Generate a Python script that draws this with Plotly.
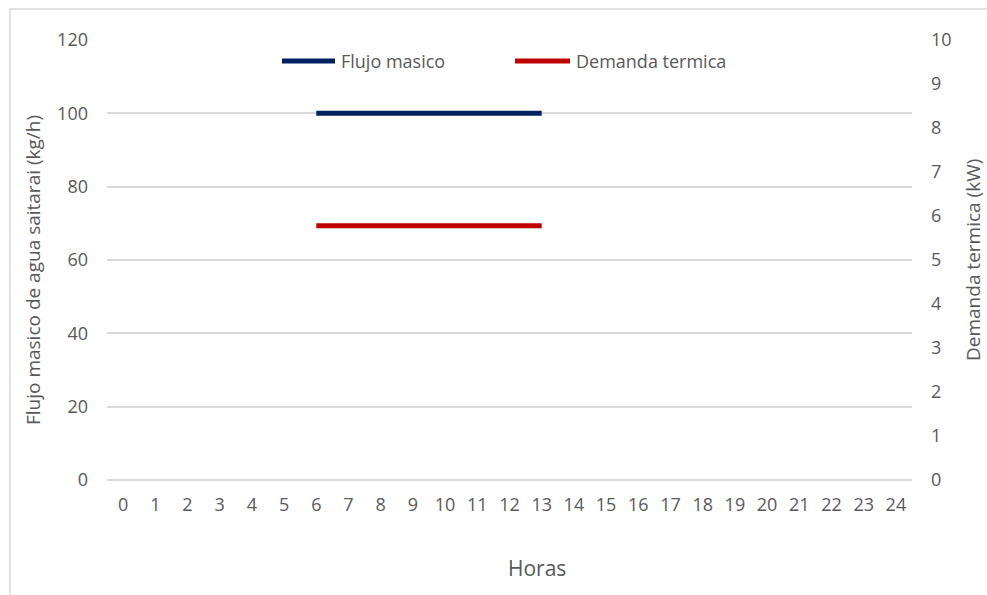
import plotly.graph_objects as go

# Hourly profile (0-24 h)
horas = list(range(25))
flujo_masico = [None] * 6 + [100] * 8 + [None] * 11          # kg/h, hours 6-13
demanda_termica = [None] * 6 + [5.78] * 8 + [None] * 11      # kW, hours 6-13

left_ticks = [0, 20, 40, 60, 80, 100, 120]
right_ticks = list(range(11))

BLUE = "#002060"
RED = "#C00000"
GREY = "#595959"
GRID = "#D9D9D9"
FONT = "Open Sans"

W, H = 987, 595
L, R, T, B = 107, 75, 40, 115
pw, ph = W - L - R, H - T - B


def px(x):
    return (x - L) / pw


def py(y):
    return (H - B - y) / ph


fig = go.Figure()
fig.add_trace(go.Scatter(x=horas, y=flujo_masico, mode="lines", name="Flujo masico",
                         line=dict(color=BLUE, width=5), showlegend=False, yaxis="y"))
fig.add_trace(go.Scatter(x=horas, y=demanda_termica, mode="lines", name="Demanda termica",
                         line=dict(color=RED, width=5), showlegend=False, yaxis="y2"))

fig.update_layout(
    width=W, height=H,
    margin=dict(l=L, r=R, t=T, b=B),
    paper_bgcolor="white", plot_bgcolor="white",
    font=dict(family=FONT, color=GREY, size=18),
    xaxis=dict(range=[-0.5, 24.5], tickmode="array", tickvals=horas,
               ticktext=[str(h) for h in horas], showgrid=False, zeroline=False,
               showline=False, ticks="", ticklabelstandoff=12,
               tickfont=dict(size=18, color=GREY)),
    yaxis=dict(range=[0, 120], tickmode="array", tickvals=left_ticks,
               showgrid=True, gridcolor=GRID, gridwidth=1.5,
               zeroline=True, zerolinecolor=GRID, zerolinewidth=1.5,
               showline=False, ticks="", ticklabelstandoff=18,
               tickfont=dict(size=18, color=GREY)),
    yaxis2=dict(range=[0, 10], tickmode="array", tickvals=right_ticks,
                overlaying="y", side="right", showgrid=False, zeroline=False,
                showline=False, ticks="", ticklabelstandoff=18,
                tickfont=dict(size=18, color=GREY)),
    showlegend=False,
)

# Axis titles
fig.add_annotation(text="Flujo masico de agua saitarai (kg/h)", x=px(33), y=py(270),
                   xref="paper", yref="paper", textangle=-90, showarrow=False,
                   font=dict(size=19, color=GREY), xanchor="center", yanchor="middle")
fig.add_annotation(text="Demanda termica (kW)", x=px(973), y=py(260),
                   xref="paper", yref="paper", textangle=-90, showarrow=False,
                   font=dict(size=19, color=GREY), xanchor="center", yanchor="middle")
fig.add_annotation(text="Horas", x=px(537), y=py(568),
                   xref="paper", yref="paper", showarrow=False,
                   font=dict(size=21, color=GREY), xanchor="center", yanchor="middle")

# Legend
legend_items = [("Flujo masico", BLUE, 282, 335), ("Demanda termica", RED, 515, 570)]
for label, color, x0, x1 in legend_items:
    fig.add_shape(type="line", xref="paper", yref="paper",
                  x0=px(x0), x1=px(x1), y0=py(61), y1=py(61),
                  line=dict(color=color, width=5))
    fig.add_annotation(text=label, x=px(x1 + 4), y=py(61), xref="paper", yref="paper",
                       showarrow=False, xanchor="left", yanchor="middle",
                       font=dict(size=18, color=GREY))

# Chart-area frame
fig.add_shape(type="rect", xref="paper", yref="paper",
              x0=px(10), x1=px(1005), y0=py(610), y1=py(9),
              line=dict(color=GRID, width=1.5), layer="below")

fig.write_html("out.html")
